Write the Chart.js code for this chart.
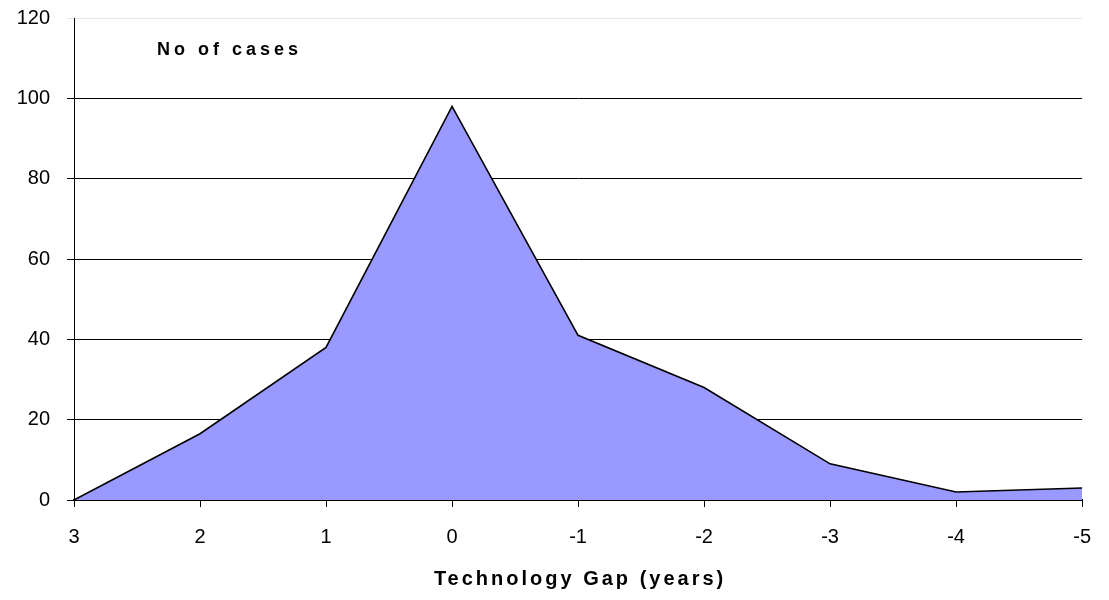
<!DOCTYPE html>
<html>
<head>
<meta charset="utf-8">
<script src="https://cdn.jsdelivr.net/npm/chart.js@4/dist/chart.umd.min.js"></script>
<style>
  html, body { margin: 0; padding: 0; background: #fff; }
  #wrap { width: 1109px; height: 600px; }
</style>
</head>
<body>
<div id="wrap"><canvas id="gapChart"></canvas></div>
<script>
// x categories (technology gap, years) and number of cases
const gapLabels = ['3', '2', '1', '0', '-1', '-2', '-3', '-4', '-5'];
const caseCounts = [0, 16.5, 38, 98, 41, 28, 9, 2, 3];
const yTicks = [0, 20, 40, 60, 80, 100, 120];

const seriesLabel = 'No of cases';
const xTitle = 'Technology Gap (years)';

// draws the two bold, letter-spaced captions
const captions = {
  id: 'captions',
  afterDraw(chart) {
    const ctx = chart.ctx;
    const area = chart.chartArea;
    ctx.save();
    ctx.fillStyle = '#000';
    ctx.textBaseline = 'alphabetic';
    ctx.letterSpacing = '4px';
    ctx.font = 'bold 18px "Liberation Sans", Arial, sans-serif';
    ctx.textAlign = 'left';
    ctx.fillText(seriesLabel, 157, 55);
    ctx.letterSpacing = '3px';
    ctx.font = 'bold 20px "Liberation Sans", Arial, sans-serif';
    ctx.textAlign = 'center';
    ctx.fillText(xTitle, (area.left + area.right) / 2 + 2, 585);
    ctx.restore();
  }
};

new Chart(document.getElementById('gapChart'), {
  type: 'line',
  data: {
    labels: gapLabels,
    datasets: [{
      label: seriesLabel,
      data: caseCounts,
      fill: 'origin',
      backgroundColor: '#9999ff',
      borderColor: '#000',
      borderWidth: 1.6,
      pointRadius: 0,
      tension: 0
    }]
  },
  options: {
    responsive: true,
    maintainAspectRatio: false,
    animation: false,
    layout: { padding: { top: 18, right: 26, left: 0, bottom: 0 } },
    plugins: {
      legend: { display: false },
      tooltip: { enabled: false }
    },
    scales: {
      x: {
        offset: false,
        grid: { drawOnChartArea: false, drawTicks: true, tickLength: 7, color: '#000' },
        border: { color: '#000', width: 2 },
        ticks: {
          color: '#000', padding: 18, maxRotation: 0, autoSkip: false,
          font: { family: '"Liberation Sans", Arial, sans-serif', size: 20 }
        },
        afterFit(scale) { scale.height = 100; }
      },
      y: {
        min: 0, max: 120,
        afterBuildTicks(scale) { scale.ticks = yTicks.map(v => ({ value: v })); },
        grid: {
          tickLength: 7,
          color: ctx => ctx.tick && ctx.tick.value === 120 ? '#e6e6e6' : '#000',
          lineWidth: 1
        },
        border: { color: '#000', width: 1 },
        ticks: {
          color: '#000', padding: 17,
          font: { family: '"Liberation Sans", Arial, sans-serif', size: 20 }
        },
        afterFit(scale) {
          scale.width = 74;
          // let the layout padding alone decide where the plot starts
          scale.paddingTop = 0;
          scale.paddingBottom = 0;
        }
      }
    }
  },
  plugins: [captions]
});
</script>
</body>
</html>
